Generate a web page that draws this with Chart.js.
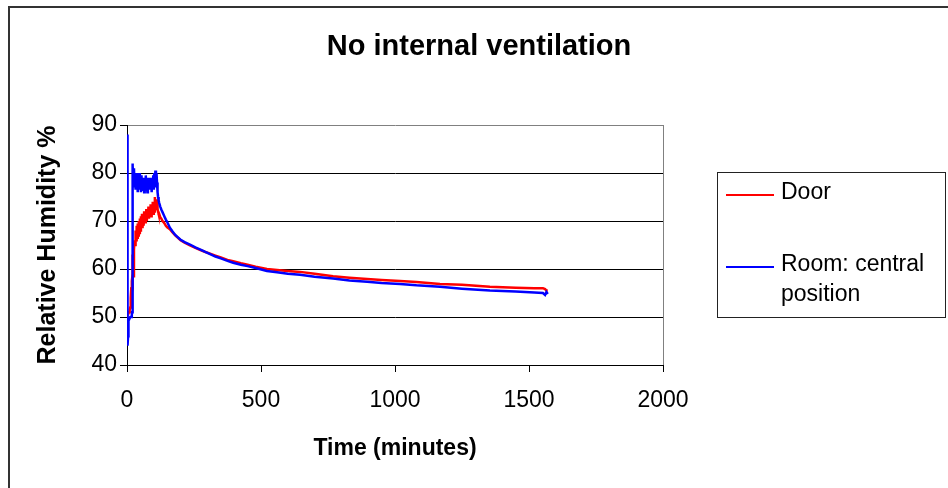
<!DOCTYPE html>
<html>
<head>
<meta charset="utf-8">
<title>No internal ventilation</title>
<script src="https://cdn.jsdelivr.net/npm/chart.js@4.4.1/dist/chart.umd.min.js"></script>
<style>
  html, body { margin: 0; padding: 0; background: #fff; }
  canvas { display: block; }
</style>
</head>
<body>
<canvas id="rhChart" width="948" height="488"></canvas>
<script>
// time in minutes, shared by both loggers
const minutes = [
    0, 1, 2, 3, 4, 5, 6, 8, 10, 12, 14, 16, 18, 19, 20, 21, 22,
    24, 26, 28, 30, 32, 34, 36, 38, 40, 42, 44, 46, 48, 50, 52, 54, 56, 58, 60, 62, 64,
    66, 68, 70, 72, 74, 76, 78, 80, 82, 84, 86, 88, 90, 92, 94, 96, 98, 100, 102, 104,
    106, 108, 110, 112,
    114, 116, 118, 120, 124, 128, 132, 136, 140, 145, 150, 160, 170, 180, 190, 200,
    215, 235, 255, 272, 290, 310, 330, 350, 375, 396, 425, 450, 480, 522, 560, 600,
    646, 700, 769, 830, 896, 950, 1019, 1080, 1168, 1250, 1354, 1450, 1520, 1552,
    1560, 1565, 1570
];

const door = [
    50, 49, 50.5, 51, 51, 50.5, 51, 51, 51.5, 52, 54, 56, 57.5, 58, 57.5, 59, 63,
    58.5, 64, 66, 65, 68, 66, 69, 66.5, 69.5, 67, 70, 67.5, 70.5, 68, 71, 68.5, 71.5, 68.5, 71, 69, 72,
    69.5, 71.5, 69.5, 72.5, 70, 72, 70.5, 73, 70.5, 72.5, 71, 73.5, 71, 73, 71.5, 74, 71.5, 74, 72, 75,
    72.5, 74.5, 73, 74.5,
    72.5, 72, 71.5, 71.5, 70.8, 70.5, 70, 69.8, 69.5, 69, 68.7, 68.3, 67.6, 67, 66.5, 66,
    65.5, 64.9, 64.4, 64.0, 63.6, 63.2, 62.8, 62.4, 61.9, 61.6, 61.2, 60.9, 60.5, 60.0, 59.8, 59.6,
    59.4, 59.0, 58.5, 58.2, 57.9, 57.7, 57.5, 57.3, 56.9, 56.7, 56.3, 56.1, 56.0, 56.0,
    55.8, 55.5, 55.5
];

const room = [
    88, 66, 45, 44, 46, 49, 49.5, 49.5, 49.5, 50, 50, 50, 50.5, 51, 78, 82, 81.5,
    78, 81, 77, 80, 76.5, 79.5, 77, 80, 76, 79, 77.5, 80, 76.5, 78.5, 76, 79.5, 77, 78.5, 76.5, 79, 76,
    78.5, 77, 79.5, 76.5, 78, 76, 79, 77, 78.5, 76.5, 79, 77, 78.5, 76, 78, 77, 79.5, 76.5, 80, 78,
    80.5, 77, 80, 78,
    76, 75, 74.3, 73.8, 73, 72.4, 71.9, 71.4, 70.9, 70.3, 69.8, 68.6, 67.8, 67.1, 66.6, 66.1,
    65.6, 65.1, 64.5, 64.1, 63.6, 63.1, 62.6, 62.2, 61.7, 61.3, 60.9, 60.6, 60.2, 59.6, 59.3, 59.0,
    58.8, 58.4, 58.0, 57.6, 57.35, 57.1, 56.9, 56.6, 56.3, 55.9, 55.5, 55.3, 55.1, 55.0,
    54.6, 55.2, 54.8
];

const seriesLabels = ['Door', 'Room: central position'];
const legendLines = [['Door'], ['Room: central', 'position']];
const seriesColors = ['#ff0000', '#0000ff'];
const chartTitle = 'No internal ventilation';
const xTitle = 'Time (minutes)';
const yTitle = 'Relative Humidity %';

const FONT = "'Liberation Sans', Arial, sans-serif";

function toPoints(ys) {
    return minutes.map((m, i) => ({ x: m, y: ys[i] }));
}

// outer frame, title, plot border and the boxed legend
const decorations = {
    id: 'decorations',
    beforeDraw(chart) {
        const ctx = chart.ctx;
        ctx.save();
        ctx.fillStyle = '#fff';
        ctx.fillRect(0, 0, chart.width, chart.height);
        ctx.strokeStyle = '#333';
        ctx.lineWidth = 2;
        ctx.beginPath();
        ctx.moveTo(9, chart.height);
        ctx.lineTo(9, 7);
        ctx.lineTo(chart.width, 7);
        ctx.stroke();

        ctx.fillStyle = '#000';
        ctx.font = 'bold 29px ' + FONT;
        ctx.textAlign = 'center';
        ctx.textBaseline = 'middle';
        ctx.fillText(chartTitle, 479, 47);
        ctx.restore();
    },
    beforeDatasetsDraw(chart) {
        const { ctx, chartArea } = chart;
        ctx.save();
        ctx.strokeStyle = '#808080';
        ctx.lineWidth = 1;
        ctx.beginPath();
        ctx.moveTo(chartArea.right + 0.5, chartArea.top);
        ctx.lineTo(chartArea.right + 0.5, chartArea.bottom);
        ctx.stroke();
        ctx.restore();
    },
    afterDraw(chart) {
        const ctx = chart.ctx;
        const boxX = 717.5, boxY = 172.5, boxW = 228, boxH = 145;
        ctx.save();
        ctx.strokeStyle = '#222';
        ctx.lineWidth = 1;
        ctx.strokeRect(boxX, boxY, boxW, boxH);

        const rows = [193, 265];
        ctx.font = '23px ' + FONT;
        ctx.textAlign = 'left';
        ctx.textBaseline = 'middle';
        chart.data.datasets.forEach((ds, i) => {
            const y = rows[i];
            ctx.strokeStyle = ds.borderColor;
            ctx.lineWidth = 2;
            ctx.beginPath();
            ctx.moveTo(726, y + 2);
            ctx.lineTo(774, y + 2);
            ctx.stroke();
            ctx.fillStyle = '#000';
            legendLines[i].forEach((line, j) => {
                ctx.fillText(line, 781, y + j * 30);
            });
        });
        ctx.restore();
    }
};

const ctx = document.getElementById('rhChart').getContext('2d');
const rhChart = new Chart(ctx, {
    type: 'line',
    data: {
        datasets: [
            {
                label: seriesLabels[0],
                data: toPoints(door),
                borderColor: seriesColors[0],
                borderWidth: 2.5,
                pointRadius: 0,
                tension: 0,
                order: 1
            },
            {
                label: seriesLabels[1],
                data: toPoints(room),
                borderColor: seriesColors[1],
                borderWidth: 2.5,
                pointRadius: 0,
                tension: 0,
                order: 0
            }
        ]
    },
    options: {
        responsive: false,
        animation: false,
        events: [],
        layout: {
            padding: { top: 125, left: 10, right: 285, bottom: 0 }
        },
        plugins: {
            legend: { display: false },
            title: { display: false },
            tooltip: { enabled: false }
        },
        scales: {
            x: {
                type: 'linear',
                min: 0,
                max: 2000,
                ticks: {
                    stepSize: 500,
                    color: '#000',
                    padding: 15,
                    font: { family: FONT, size: 23 },
                    maxRotation: 0,
                    callback: (v) => String(v)
                },
                grid: {
                    drawOnChartArea: false,
                    drawTicks: true,
                    tickLength: 7,
                    tickColor: '#000'
                },
                border: { display: true, color: '#000', width: 1 },
                title: {
                    display: true,
                    text: xTitle,
                    color: '#000',
                    font: { family: FONT, size: 23, weight: 'bold' },
                    padding: { top: 0, bottom: 26 }
                },
                afterFit(scale) {
                    scale.height = 123;
                }
            },
            y: {
                min: 40,
                max: 90,
                ticks: {
                    stepSize: 10,
                    color: '#000',
                    padding: 3,
                    font: { family: FONT, size: 23 }
                },
                grid: {
                    color: (c) => (c.tick && c.tick.value === 90 ? '#808080' : '#000'),
                    lineWidth: 1,
                    drawTicks: true,
                    tickLength: 7,
                    tickColor: '#000'
                },
                border: { display: true, color: '#000', width: 1 },
                title: {
                    display: true,
                    text: yTitle,
                    color: '#000',
                    font: { family: FONT, size: 25, weight: 'bold' },
                    padding: { top: 23, bottom: 0 }
                },
                afterFit(scale) {
                    scale.width = 117;
                }
            }
        }
    },
    plugins: [decorations]
});
</script>
</body>
</html>
